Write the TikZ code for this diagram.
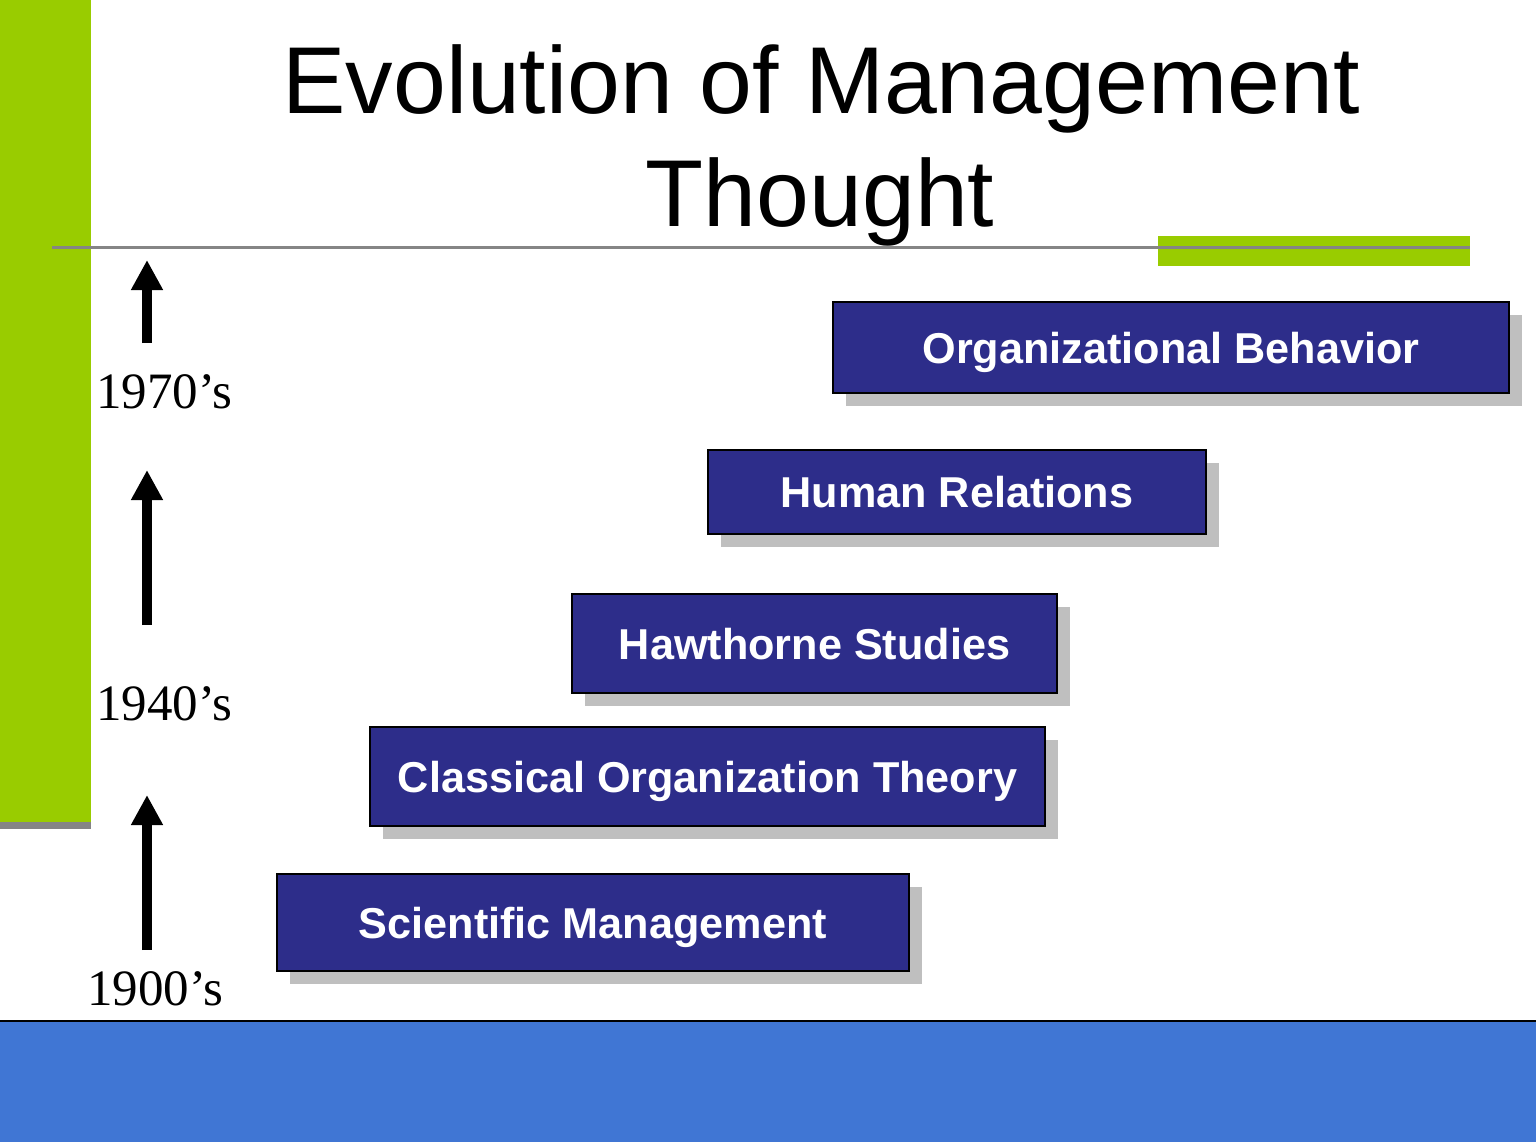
\documentclass[tikz,border=0pt]{standalone}
\usepackage{fontspec}
\setmainfont{Liberation Serif}
\newfontfamily\arialfont{Liberation Sans}
\usetikzlibrary{arrows.meta, shadows}
\definecolor{slidegreen}{HTML}{99CC00}
\definecolor{slidenavy}{HTML}{2D2D8A}
\definecolor{slideblue}{HTML}{4076D4}
\definecolor{shadowgray}{HTML}{BFBFBF}
\definecolor{rulegray}{HTML}{858585}

\begin{document}
\begin{tikzpicture}[x=0.5pt, y=-0.5pt,
        era/.style={draw, line width=1pt, fill=slidenavy, text=white, inner sep=0pt, text depth=0pt,
            font=\arialfont\bfseries\fontsize{21.6}{26}\selectfont,
            general shadow={fill=shadowgray, shadow xshift=6.5pt, shadow yshift=-6.5pt}},
        year/.style={anchor=base west, inner sep=0pt, font=\fontsize{25.5}{30}\selectfont},
        uparrow/.style={line width=5pt, -{Triangle[width=15pt, length=15pt]}},
        heading/.style={anchor=base, inner sep=0pt, font=\arialfont\fontsize{47.5}{56}\selectfont}]
        \useasboundingbox (0, 0) rectangle (1536, 1141);
        % slide frame
        \fill [slidegreen] (0, 0) rectangle (91, 822);
        \fill [rulegray] (0, 822) rectangle (91, 829);
        \fill [slidegreen] (1158, 236) rectangle (1470, 266);
        \draw [rulegray, line width=1.5pt] (52, 247) -- (1470, 247);
        \draw [fill = slideblue, line width=0.75pt] (-2, 1021) rectangle (1538, 1145);
        % title
        \node [heading] (title1) at (821, 113) {Evolution of Management};
        \node [heading] (title2) at (820, 226) {Thought};
        % schools of thought
        \node [era, minimum width=338pt, minimum height=45.5pt] (ob) at (1171, 347.5) {Organizational Behavior};
        \node [era, minimum width=249pt, minimum height=42pt] (hr) at (957, 492) {Human Relations};
        \node [era, minimum width=242.5pt, minimum height=49.5pt] (hs) at (814.5, 643.5) {Hawthorne Studies};
        \node [era, minimum width=337.5pt, minimum height=49.5pt] (cot) at (707.5, 776.5) {Classical Organization Theory};
        \node [era, minimum width=316pt, minimum height=48.5pt] (sm) at (593, 922.5) {Scientific Management};
        % time axis
        \node [year] (y1970) at (96, 408) {1970’s};
        \node [year] (y1940) at (96, 720) {1940’s};
        \node [year] (y1900) at (87, 1005) {1900’s};
        \coordinate (a1s) at (147, 343);
        \coordinate (a1e) at (147, 260);
        \coordinate (a2s) at (147, 625);
        \coordinate (a2e) at (147, 470);
        \coordinate (a3s) at (147, 950);
        \coordinate (a3e) at (147, 795);
        \draw [uparrow] (a1s) -- (a1e);
        \draw [uparrow] (a2s) -- (a2e);
        \draw [uparrow] (a3s) -- (a3e);
\end{tikzpicture}
\end{document}
